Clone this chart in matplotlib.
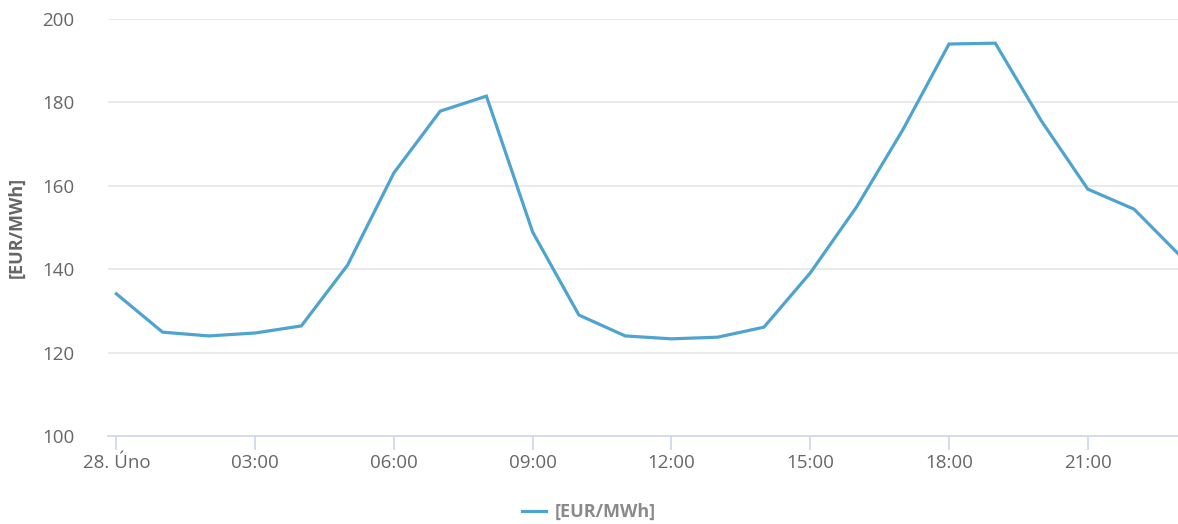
import matplotlib
matplotlib.use("Agg")
import matplotlib.pyplot as plt

hours = list(range(24))
prices = [134.1, 124.9, 124.0, 124.7, 126.4, 141.0, 163.1, 177.9, 181.5, 148.9,
          129.0, 124.0, 123.3, 123.7, 126.1, 139.1, 154.9, 173.4, 194.0, 194.2,
          175.5, 159.2, 154.4, 143.2]
xtick_pos = [0, 3, 6, 9, 12, 15, 18, 21]
xtick_labels = ["28. Úno", "03:00", "06:00", "09:00", "12:00", "15:00", "18:00", "21:00"]
yticks = [100, 120, 140, 160, 180, 200]
series_name = "[EUR/MWh]"
ylabel = "[EUR/MWh]"

plt.rcParams['font.family'] = ['Open Sans', 'DejaVu Sans']

fig = plt.figure(figsize=(11.78, 5.24), dpi=100)
ax = fig.add_axes([108/1178, 1-436/524, 1-108/1178, (436-19)/524])

line_color = "#4ea4cf"
ax.plot(hours, prices, color=line_color, lw=2.3, solid_joinstyle='miter', label=series_name, clip_on=True)

ax.set_xlim(-0.18, 22.95)
ax.set_ylim(100, 200)
ax.set_yticks(yticks)
ax.set_xticks(xtick_pos)
ax.set_xticklabels(xtick_labels)

for s in ['top', 'right', 'left']:
    ax.spines[s].set_visible(False)
ax.spines['bottom'].set_color("#ccd6eb")
ax.spines['bottom'].set_linewidth(1.2)

ax.grid(axis='y', color="#e6e6e6", lw=1.2)
ax.set_axisbelow(True)
ax.tick_params(axis='y', length=0, pad=24, labelsize=13.5, labelcolor="#666666")
ax.tick_params(axis='x', length=10, width=1.2, color="#ccd6eb", pad=3, labelsize=13.5, labelcolor="#666666")
for lab in ax.get_yticklabels():
    lab.set_horizontalalignment('right')

ax.set_ylabel(ylabel, fontsize=13, fontweight='bold', color="#666666", labelpad=12)

leg = fig.legend(loc='lower center', bbox_to_anchor=(0.5, -0.025), frameon=False,
                 fontsize=13, handlelength=1.3, handletextpad=0.5)
for t in leg.get_texts():
    t.set_color("#8a8a8a")
    t.set_fontweight('bold')

fig.savefig("out.png", dpi=100)
